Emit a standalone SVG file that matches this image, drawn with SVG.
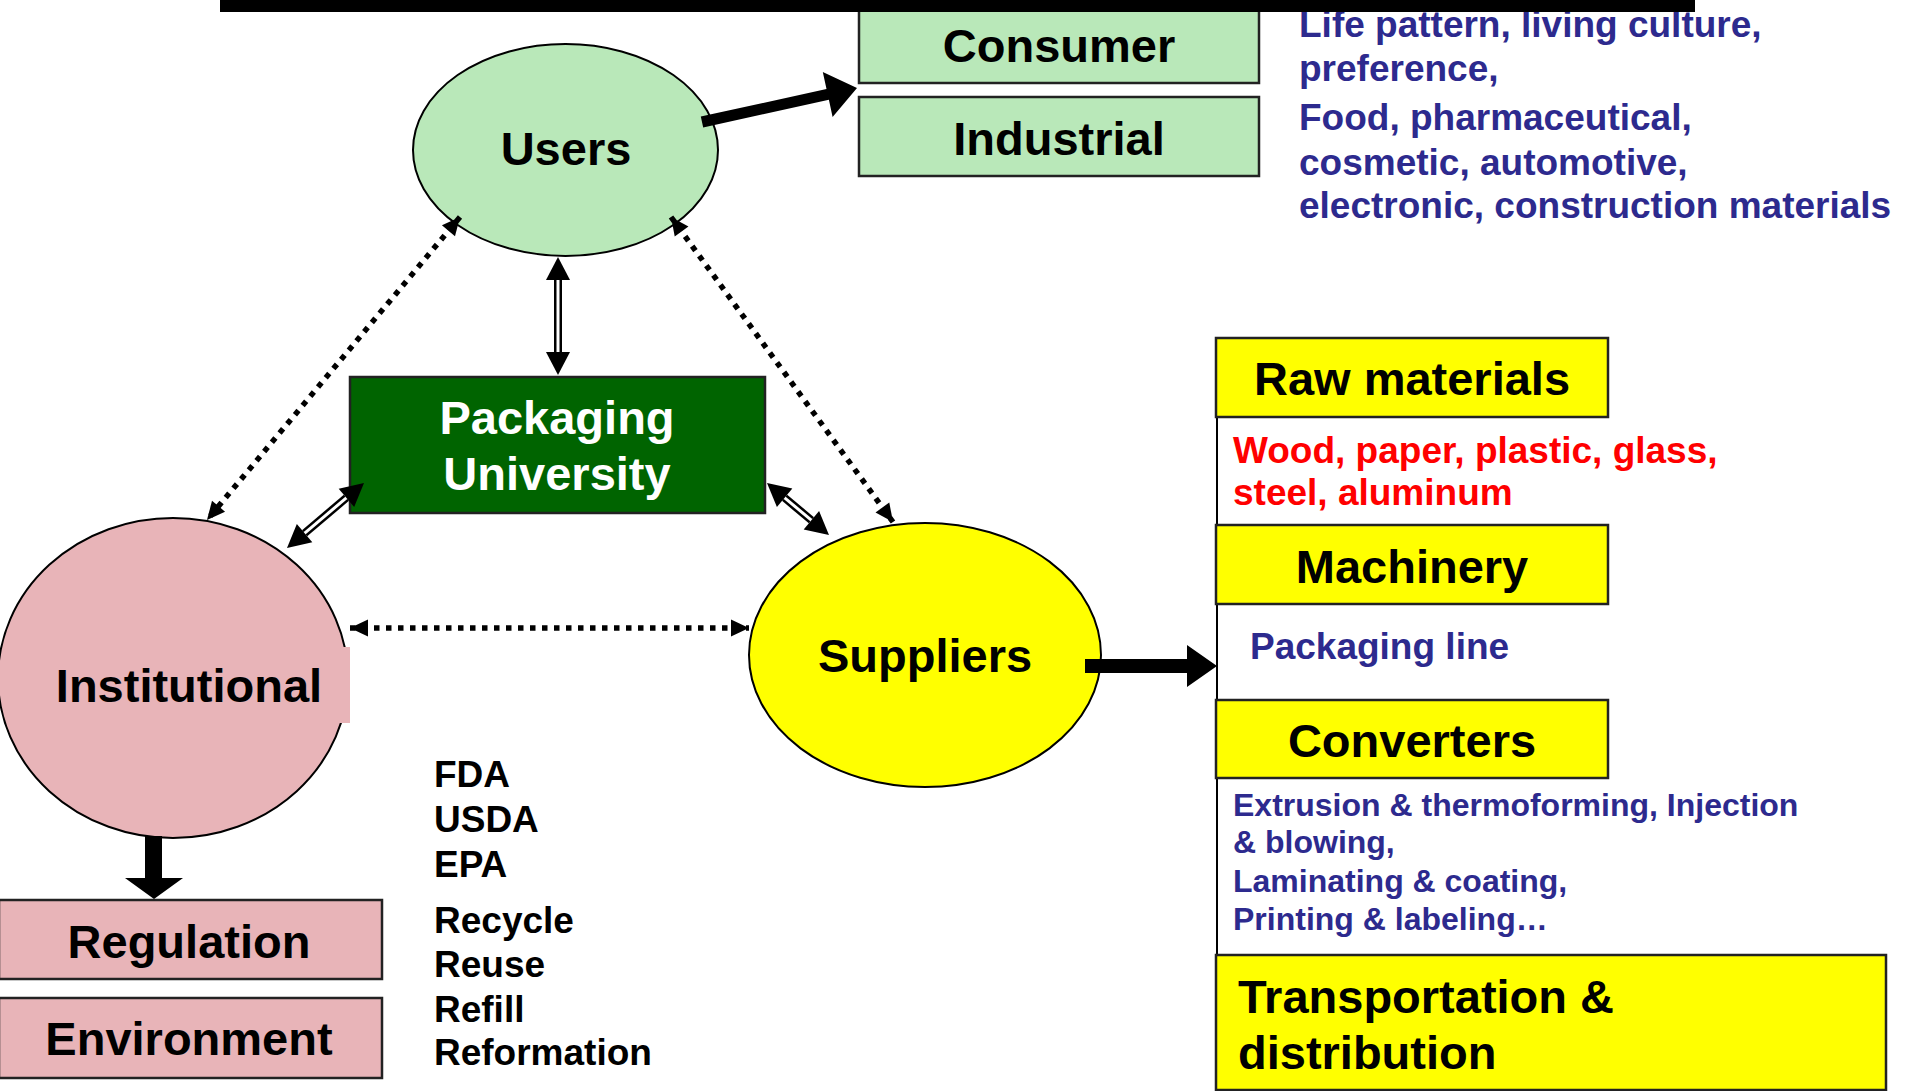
<svg xmlns="http://www.w3.org/2000/svg" width="1905" height="1091" viewBox="0 0 1905 1091">
<style>
text{font-family:"Liberation Sans",Arial,Helvetica,sans-serif;font-weight:bold}
.big{font-size:47px;fill:#000}
.mid{font-size:37px}
.small{font-size:32px}
.blue{fill:#2D2A8E}
.red{fill:#FF0000}
.white{fill:#FFFFFF}
.blk{fill:#000}
.c{text-anchor:middle}
.box{stroke:#222;stroke-width:2.5}
.green{fill:#B9E8B9}
.pink{fill:#E8B4B8}
.yellow{fill:#FFFF00}
.dots{fill:none;stroke:#000;stroke-width:5.5;stroke-dasharray:5.5 6.5;marker-start:url(#dotHead);marker-end:url(#dotHead)}
.dblOuter{fill:none;stroke:#000;stroke-width:8}
.dblInner{fill:none;stroke:#fff;stroke-width:3}
.dblHeads{fill:none;stroke:none;marker-start:url(#dblHead);marker-end:url(#dblHead)}
</style>
<defs>
<marker id="dotHead" markerUnits="userSpaceOnUse" markerWidth="18" markerHeight="17" refX="18" refY="8.5" orient="auto-start-reverse" overflow="visible">
<path d="M0,0 L18,8.5 L0,17 Z" fill="#000"/>
</marker>
<marker id="dblHead" markerUnits="userSpaceOnUse" markerWidth="23" markerHeight="24" refX="23" refY="12" orient="auto-start-reverse" overflow="visible">
<path d="M0,0 L23,12 L0,24 Z" fill="#000"/>
</marker>
</defs>
<rect width="1905" height="1091" fill="#FFFFFF"/>

<g id="node-users">
<ellipse cx="565.5" cy="150" rx="152.5" ry="106" class="green" stroke="#000" stroke-width="2"/>
<text x="566" y="165" class="big c">Users</text>
</g>

<g id="node-consumer">
<rect x="859" y="6" width="400" height="77" class="box green"/>
<text x="1059" y="62" class="big c">Consumer</text>
</g>
<g id="node-industrial">
<rect x="859" y="97" width="400" height="79" class="box green"/>
<text x="1059" y="155" class="big c">Industrial</text>
</g>
<g id="note-users">
<text class="mid blue" x="1299" y="37">Life pattern, living culture,</text>
<text class="mid blue" x="1299" y="81">preference,</text>
<text class="mid blue" x="1299" y="130">Food, pharmaceutical,</text>
<text class="mid blue" x="1299" y="175">cosmetic, automotive,</text>
<text class="mid blue" x="1299" y="218">electronic, construction materials</text>
</g>

<rect id="top-bar" x="220" y="0" width="1475" height="12" fill="#000"/>

<g id="node-packaging-university">
<rect x="350" y="377" width="415" height="136" fill="#006400" stroke="#222" stroke-width="2.5"/>
<text x="557" y="434" class="big c white">Packaging</text>
<text x="557" y="490" class="big c white">University</text>
</g>

<g id="node-institutional">
<ellipse cx="173" cy="678" rx="175" ry="160" class="pink" stroke="#000" stroke-width="2"/>
<rect x="50" y="647" width="300" height="76" class="pink"/>
<text x="189" y="702" class="big c">Institutional</text>
</g>

<g id="node-suppliers">
<ellipse cx="925" cy="655" rx="176" ry="132" class="yellow" stroke="#000" stroke-width="2"/>
<text x="925" y="672" class="big c">Suppliers</text>
</g>

<g id="node-regulation">
<rect x="-1" y="900" width="383" height="79" class="box pink"/>
<text x="189" y="958" class="big c">Regulation</text>
</g>
<g id="node-environment">
<rect x="-1" y="998" width="383" height="80" class="box pink"/>
<text x="189" y="1055" class="big c">Environment</text>
</g>
<g id="note-institutional">
<text class="mid blk" x="434" y="787">FDA</text>
<text class="mid blk" x="434" y="832">USDA</text>
<text class="mid blk" x="434" y="877">EPA</text>
<text class="mid blk" x="434" y="933">Recycle</text>
<text class="mid blk" x="434" y="977">Reuse</text>
<text class="mid blk" x="434" y="1022">Refill</text>
<text class="mid blk" x="434" y="1065">Reformation</text>
</g>

<line id="supplier-bracket" x1="1217" y1="338" x2="1217" y2="1090" stroke="#000" stroke-width="2"/>

<g id="node-raw-materials">
<rect x="1216" y="338" width="392" height="79" class="box yellow"/>
<text x="1412" y="395" class="big c">Raw materials</text>
<text class="mid red" x="1233" y="463">Wood, paper, plastic, glass,</text>
<text class="mid red" x="1233" y="505">steel, aluminum</text>
</g>
<g id="node-machinery">
<rect x="1216" y="525" width="392" height="79" class="box yellow"/>
<text x="1412" y="583" class="big c">Machinery</text>
<text class="mid blue" x="1250" y="659">Packaging line</text>
</g>
<g id="node-converters">
<rect x="1216" y="700" width="392" height="78" class="box yellow"/>
<text x="1412" y="757" class="big c">Converters</text>
<text class="small blue" x="1233" y="816">Extrusion &amp; thermoforming, Injection</text>
<text class="small blue" x="1233" y="853">&amp; blowing,</text>
<text class="small blue" x="1233" y="892">Laminating &amp; coating,</text>
<text class="small blue" x="1233" y="930">Printing &amp; labeling…</text>
</g>
<g id="node-transportation">
<rect x="1216" y="955" width="670" height="135" class="box yellow"/>
<text x="1238" y="1013" class="big">Transportation &amp;</text>
<text x="1238" y="1069" class="big">distribution</text>
</g>

<g id="connectors">
<path class="dots" d="M460,217 L207,520"/>
<path class="dots" d="M671,217 L893,522"/>
<path class="dots" d="M350,628 L749,628"/>

<path class="dblOuter" d="M558,280 L558,352"/>
<path class="dblInner" d="M558,279 L558,353"/>
<path class="dblHeads" d="M558,257 L558,375"/>

<path class="dblOuter" d="M346.4,497.8 L304.6,533.2"/>
<path class="dblInner" d="M347.2,497.2 L303.8,533.8"/>
<path class="dblHeads" d="M364,483 L287,548"/>

<path class="dblOuter" d="M784.6,497.8 L811.4,520.2"/>
<path class="dblInner" d="M783.8,497.2 L812.2,520.8"/>
<path class="dblHeads" d="M767,483 L829,535"/>

<polygon points="700.8,116.6 826.5,89 822.8,71.9 857,88 832.6,116.9 828.9,99.8 703.2,127.4" fill="#000"/>
<polygon points="1085,659 1187,659 1187,645 1217,666 1187,687 1187,673 1085,673" fill="#000"/>
<polygon points="145,836 162,836 162,878 183,878 154,899 125,878 145,878" fill="#000"/>
</g>
</svg>
